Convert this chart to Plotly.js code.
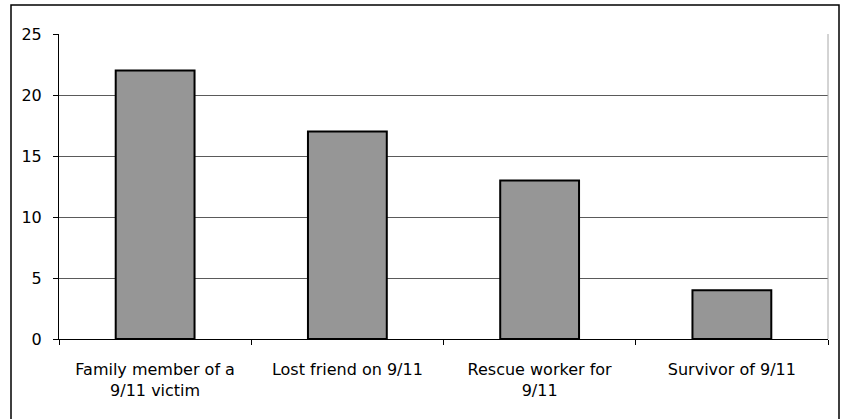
<!DOCTYPE html>
<html>
<head>
<meta charset="utf-8">
<script src="https://cdn.plot.ly/plotly-3.0.1.min.js"></script>
<style>html,body{margin:0;padding:0;background:#fff;}#chart{width:844px;height:419px;}</style>
</head>
<body>
<div id="chart"></div>
<script>
var categories = ["Family member of a<br>9/11 victim", "Lost friend on 9/11", "Rescue worker for<br>9/11", "Survivor of 9/11"];
var values = [22, 17, 13, 4];
var yTicks = [0, 5, 10, 15, 20, 25];

var trace = {
  type: 'bar',
  x: categories,
  y: values,
  marker: {color: '#969696', line: {color: '#000000', width: 2}},
  hoverinfo: 'none'
};

var fontFam = '"DejaVu Sans", sans-serif';
var layout = {
  width: 844, height: 419,
  margin: {l: 59, r: 16, t: 34, b: 80},
  paper_bgcolor: '#ffffff', plot_bgcolor: '#ffffff',
  bargap: 0.59,
  showlegend: false,
  font: {family: fontFam, size: 16, color: '#000'},
  xaxis: {
    type: 'category',
    showline: true, linecolor: '#000', linewidth: 1,
    ticks: 'outside', tickson: 'boundaries', ticklen: 5, tickcolor: '#000',
    showgrid: false,
    ticklabelstandoff: 16,
    tickfont: {family: fontFam, size: 16, color: '#000'}
  },
  yaxis: {
    range: [0, 25],
    tickvals: yTicks,
    showline: true, linecolor: '#000', linewidth: 1,
    ticks: 'outside', ticklen: 5, tickcolor: '#000',
    showgrid: true, gridcolor: '#5a5a5a', gridwidth: 1,
    zeroline: false,
    ticklabelstandoff: 8,
    tickfont: {family: fontFam, size: 16, color: '#000'}
  },
  shapes: [
    {type: 'line', xref: 'paper', yref: 'paper', x0: 1, x1: 1, y0: 0, y1: 1,
     line: {color: '#a8a8a8', width: 1}},
    {type: 'rect', xref: 'paper', yref: 'paper',
     x0: (11 - 59) / 769, x1: (839 - 59) / 769,
     y0: -0.30, y1: (339 - 5) / 305,
     line: {color: '#000', width: 1.5}, fillcolor: 'rgba(0,0,0,0)', layer: 'below'}
  ]
};

Plotly.newPlot('chart', [trace], layout, {staticPlot: true, displayModeBar: false});
</script>
</body>
</html>
